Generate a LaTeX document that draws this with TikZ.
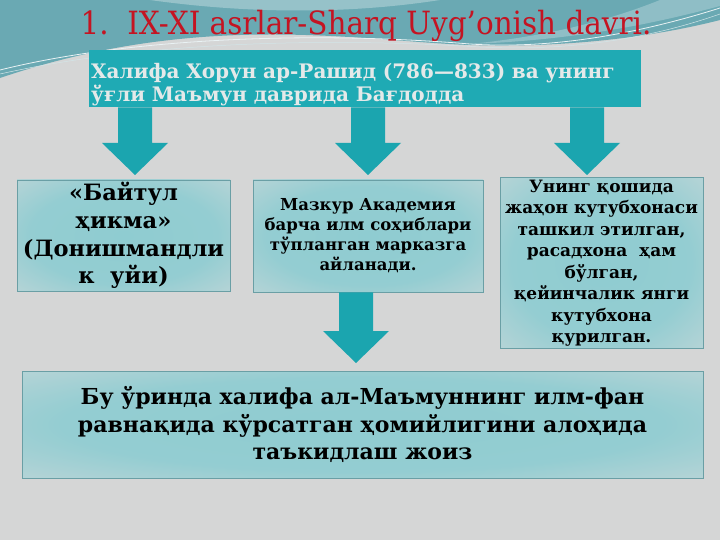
\documentclass[tikz,border=0pt]{standalone}
\usepackage{fontspec}
\setmainfont{DejaVu Serif}
\newfontfamily\titlefont{DejaVu Serif}[FakeStretch=0.92]
\usetikzlibrary{calc}

\definecolor{bggray}{HTML}{D5D6D6}
\definecolor{bgteal}{HTML}{6AA9B3}
\definecolor{headteal}{HTML}{1FAAB4}
\definecolor{arrteal}{HTML}{1BA5AF}
\definecolor{titlered}{HTML}{C41422}
\definecolor{headtext}{HTML}{E4E9E9}
\definecolor{boxin}{HTML}{8FCCD1}
\definecolor{boxout}{HTML}{CAD8D9}
\definecolor{boxline}{HTML}{6A9FA5}
\pgfdeclareradialshading{boxshade}{\pgfpoint{0bp}{0bp}}{color(0bp)=(boxin);
  color(22bp)=(boxin!92!boxout); color(44bp)=(boxout); color(50bp)=(boxout)}

\begin{document}
\begin{tikzpicture}[x=1pt, y=-1pt,
  box/.style={draw=boxline, line width=0.8pt, shading=boxshade,
    align=center, font=\bfseries, inner sep=2pt},
  arrowfill/.style={fill=arrteal}]
% background
\fill[bggray] (0,0) rectangle (720,540);
\useasboundingbox (0,0) rectangle (720,540);
\fill[bgteal] (0,0) -- (720,0) -- (720,20) .. controls (650,38) and (560,48) .. (470,45)
  .. controls (360,41) and (200,10) .. (0,78) -- cycle;
\fill[white, opacity=.3] (150,0) .. controls (250,14) and (350,14) .. (440,0) -- cycle;
\fill[white, opacity=.25] (720,0) -- (660,0) .. controls (610,20) and (550,36) .. (470,44)
  .. controls (580,40) and (660,22) .. (720,6) -- cycle;
\draw[white!85!bgteal, line width=.8pt] (0,70) .. controls (120,40) and (300,30) .. (470,44)
  .. controls (560,50) and (650,30) .. (720,8);
\draw[white!70!bgteal, line width=.5pt] (0,74) .. controls (130,45) and (300,36) .. (480,47)
  .. controls (580,52) and (660,35) .. (720,14);

% title
\node[text=titlered, font=\titlefont\fontsize{32}{38}\selectfont, anchor=base] (title) at (366,35)
  {1.\ \ IX-XI asrlar-Sharq Uyg’onish davri.};

% header
\node[fill=headteal, anchor=north west, text width=548pt, inner xsep=2pt, inner ysep=13pt,
  text height=15pt, text depth=16pt, align=left, text=headtext,
  font=\fontsize{20}{23}\selectfont\bfseries] (head) at (89,50)
  {Халифа Хорун ар-Рашид (786—833) ва унинг\\ўғли Маъмун даврида Бағдодда};

% boxes
\node[box, minimum width=213pt, minimum height=111pt, font=\fontsize{22.5}{27.7}\selectfont\bfseries]
  (bayt) at (123.5,235.5) {«Байтул\\ҳикма»\\(Донишмандли\\к\ \ уйи)};
\node[box, minimum width=230pt, minimum height=112pt, font=\fontsize{16.5}{20}\selectfont\bfseries]
  (akad) at (368,236) {Мазкур Академия\\барча илм соҳиблари\\тўпланган марказга\\айланади.};
\node[box, minimum width=203pt, minimum height=168pt, font=\fontsize{17}{21.5}\selectfont\bfseries]
  (kutub) at (601.5,263) {Унинг қошида\\жаҳон кутубхонаси\\ташкил этилган,\\расадхона\ \ ҳам\\бўлган,\\қейинчалик янги\\кутубхона\\қурилган.};
\node[box, minimum width=681pt, minimum height=107pt, font=\fontsize{22}{27.5}\selectfont\bfseries]
  (conc) at (362.5,424.5) {Бу ўринда халифа ал-Маъмуннинг илм-фан\\равнақида кўрсатган ҳомийлигини алоҳида\\таъкидлаш жоиз};

% arrows
\coordinate (t1) at (135,175);
\coordinate (t2) at (368,175);
\coordinate (t3) at (587,175);
\coordinate (t4) at (356,363);
\foreach \t/\s in {t1/head, t2/head, t3/head, t4/akad}
  \fill[arrowfill] let \p1=(\t), \p2=(\s.south) in
    (\x1-17pt,\y2) -- (\x1+17pt,\y2) -- (\x1+17pt,\y1+32pt) -- (\x1+33pt,\y1+32pt)
    -- (\t) -- (\x1-33pt,\y1+32pt) -- (\x1-17pt,\y1+32pt) -- cycle;

\end{tikzpicture}
\end{document}
